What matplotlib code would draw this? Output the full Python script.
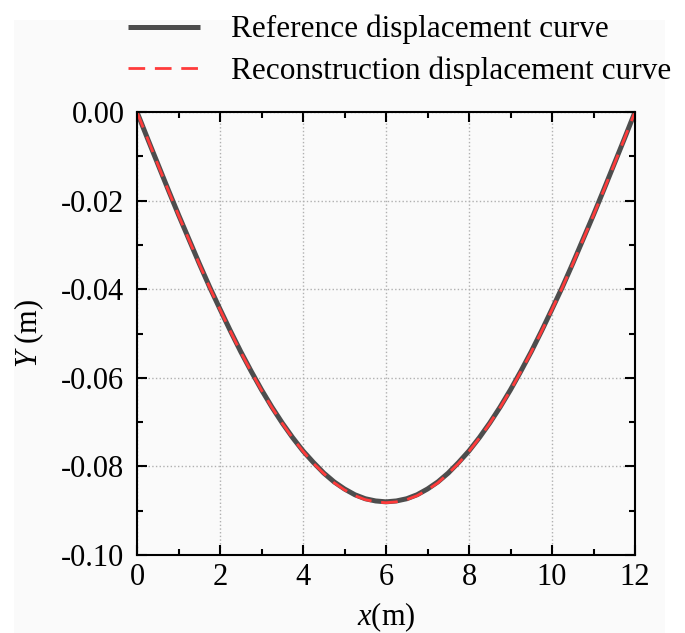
import numpy as np
import matplotlib.pyplot as plt
from matplotlib.ticker import MultipleLocator
from matplotlib.patches import Rectangle

# values (m)
x_pos = [0.0, 0.25, 0.5, 0.75, 1.0, 1.25, 1.5, 1.75, 2.0, 2.25, 2.5, 2.75,
         3.0, 3.25, 3.5, 3.75, 4.0, 4.25, 4.5, 4.75, 5.0, 5.25, 5.5, 5.75,
         6.0, 6.25, 6.5, 6.75, 7.0, 7.25, 7.5, 7.75, 8.0, 8.25, 8.5, 8.75,
         9.0, 9.25, 9.5, 9.75, 10.0, 10.25, 10.5, 10.75, 11.0, 11.25, 11.5,
         11.75, 12.0]
half_ref = [0.0, -0.0059, -0.0117, -0.0175, -0.0232, -0.0287, -0.0342,
            -0.0395, -0.0445, -0.0494, -0.0541, -0.0585, -0.0627, -0.0666,
            -0.0702, -0.0735, -0.0765, -0.0791, -0.0815, -0.0835, -0.0851,
            -0.0864, -0.0873, -0.0878]
y_ref = half_ref + [-0.0880] + half_ref[::-1]
half_rec = [0.0, -0.0059, -0.0118, -0.0176, -0.0233, -0.0288, -0.0343,
            -0.0396, -0.0446, -0.0495, -0.0542, -0.0586, -0.0628, -0.0667,
            -0.0703, -0.0736, -0.0766, -0.0793, -0.0816, -0.0837, -0.0853,
            -0.0866, -0.0875, -0.0880]
y_rec = half_rec + [-0.0882] + half_rec[::-1]

plt.rcParams['font.family'] = ['Liberation Serif', 'DejaVu Serif']
plt.rcParams['mathtext.fontset'] = 'custom'
plt.rcParams['mathtext.it'] = 'Liberation Serif:italic'
plt.rcParams['mathtext.rm'] = 'Liberation Serif'

fig = plt.figure(figsize=(6.85, 6.33), dpi=100)
fig.patches.append(Rectangle((14 / 685, 0), (665 - 14) / 685, 1 - 20 / 633,
                             transform=fig.transFigure, facecolor='#fafafa',
                             edgecolor='none', zorder=-10))
ax = fig.add_axes([137 / 685, 1 - 555 / 633, (635 - 137) / 685, (555 - 112) / 633])
ax.set_facecolor('#fafafa')

ax.plot(x_pos, y_ref, color='#4d4d4d', lw=3.6, label='Reference displacement curve',
        solid_capstyle='butt')
ax.plot(x_pos, y_rec, color='#ff3b3b', lw=2.0, ls=(0, (6, 3.5)),
        label='Reconstruction displacement curve')

ax.set_xlim(0, 12)
ax.set_ylim(-0.10, 0.0)
ax.xaxis.set_major_locator(MultipleLocator(2))
ax.xaxis.set_minor_locator(MultipleLocator(1))
ax.yaxis.set_major_locator(MultipleLocator(0.02))
ax.yaxis.set_minor_locator(MultipleLocator(0.01))
ax.yaxis.set_major_formatter(
    plt.FuncFormatter(lambda v, p: '0.00' if abs(v) < 1e-9 else '%.2f' % v))
ax.tick_params(which='both', direction='in', top=True, right=True,
               labelsize=22, width=1.5, color='black')
ax.tick_params(axis='y', pad=9)
ax.tick_params(axis='x', pad=6)
ax.tick_params(which='major', length=7)
ax.tick_params(which='minor', length=4)
for s in ax.spines.values():
    s.set_linewidth(1.5)
ax.grid(True, which='major', ls=':', color='#b0b0b0', lw=1.0)

ax.set_xlabel('$x$(m)', fontsize=22, labelpad=6)
ax.set_ylabel('$Y$ (m)', fontsize=22, labelpad=11)

fig.legend(loc='upper left', bbox_to_anchor=(128 / 685, 1 - 15 / 633), frameon=False,
           fontsize=22.5, handlelength=2.3, handletextpad=1.0, labelspacing=0.37,
           borderpad=0, borderaxespad=0)

fig.savefig('out.png', dpi=100, facecolor='white')
